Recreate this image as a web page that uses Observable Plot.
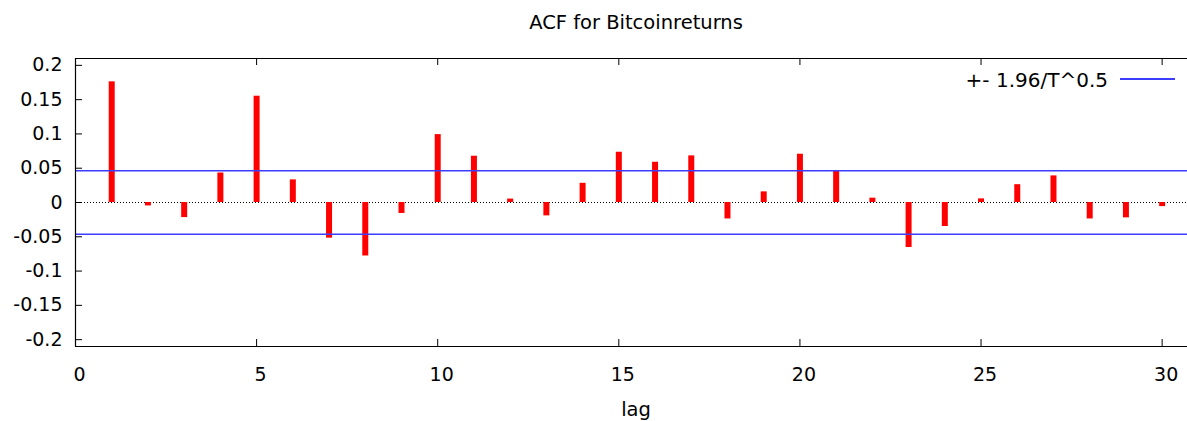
<!DOCTYPE html>
<html>
<head>
<meta charset="utf-8">
<script src="https://cdn.jsdelivr.net/npm/d3@7"></script>
<script src="https://cdn.jsdelivr.net/npm/@observablehq/plot@0.6"></script>
<style>
  html, body { margin: 0; padding: 0; background: #fff; }
  #wrap { position: relative; width: 1187px; height: 421px; font-family: "DejaVu Sans", sans-serif; color: #000; overflow: hidden; }
  #title { height: 42px; box-sizing: border-box; padding-top: 14px; padding-left: 85px; text-align: center; font-size: 19.5px; line-height: 18px; white-space: nowrap; }
  #xlabel { height: 29px; box-sizing: border-box; padding-top: 9px; padding-left: 85px; text-align: center; font-size: 19.5px; line-height: 18px; white-space: nowrap; }
  #chart svg { display: block; }
  #legend { position: absolute; right: 79px; top: 71px; font-size: 20px; line-height: 18px; white-space: nowrap; }
  #legendline { position: absolute; left: 1120px; top: 78px; width: 55px; height: 1.5px; background: #3c3cff; }
</style>
</head>
<body>
<div id="wrap">
  <div id="title">ACF for Bitcoinreturns</div>
  <div id="chart"></div>
  <div id="xlabel">lag</div>
  <div id="legend">+- 1.96/T^0.5</div>
  <div id="legendline"></div>
</div>
<script>
const lags = [1,2,3,4,5,6,7,8,9,10,11,12,13,14,15,16,17,18,19,20,21,22,23,24,25,26,27,28,29,30];
const acf = [0.176, -0.005, -0.022, 0.043, 0.155, 0.033, -0.052, -0.078, -0.016, 0.099,
             0.0675, 0.005, -0.0195, 0.028, 0.0733, 0.0587, 0.068, -0.024, 0.0155, 0.0704,
             0.046, 0.0063, -0.0656, -0.035, 0.0053, 0.026, 0.0388, -0.024, -0.0224, -0.006];
const bands = [0.0462, -0.0462];
const xTicks = [0, 5, 10, 15, 20, 25, 30];
const yTicks = [-0.2, -0.15, -0.1, -0.05, 0, 0.05, 0.1, 0.15, 0.2];
const xDomain = [0, 30.7];
const yDomain = [-0.21, 0.21];

const rows = lags.map((l, i) => ({lag: l, value: acf[i]}));

const chart = Plot.plot({
  width: 1187,
  height: 350,
  marginTop: 16,
  marginBottom: 46,
  marginLeft: 75,
  marginRight: 0,
  x: {domain: xDomain},
  y: {domain: yDomain},
  style: {fontFamily: "DejaVu Sans", fontSize: "19px", color: "#000", background: "#fff", overflow: "visible"},
  marks: [
    Plot.ruleY([0], {stroke: "#000", strokeWidth: 1, strokeDasharray: "1,2"}),
    Plot.ruleX(rows, {x: "lag", y1: 0, y2: "value", stroke: "#ff0000", strokeWidth: 6}),
    Plot.ruleY(bands, {stroke: "#3c3cff", strokeWidth: 1.5}),
    // border (left, top, bottom)
    Plot.ruleX([xDomain[0]], {stroke: "#000", strokeWidth: 1.2}),
    Plot.ruleY(yDomain, {stroke: "#000", strokeWidth: 1.2}),
    // inward ticks
    Plot.ruleX(xTicks, {x: d => d, y1: yDomain[0], y2: yDomain[0], insetTop: -7, stroke: "#000"}),
    Plot.ruleX(xTicks, {x: d => d, y1: yDomain[1], y2: yDomain[1], insetBottom: -7, stroke: "#000"}),
    Plot.ruleY(yTicks, {y: d => d, x1: xDomain[0], x2: xDomain[0], insetRight: -7, stroke: "#000"}),
    Plot.axisX({ticks: xTicks, tickSize: 0, tickPadding: 21, dx: 4, tickFormat: d => String(d), label: null}),
    Plot.axisY({ticks: yTicks, tickSize: 0, tickPadding: 13, tickFormat: d => String(d), label: null})
  ]
});
document.getElementById("chart").appendChild(chart);
</script>
</body>
</html>
